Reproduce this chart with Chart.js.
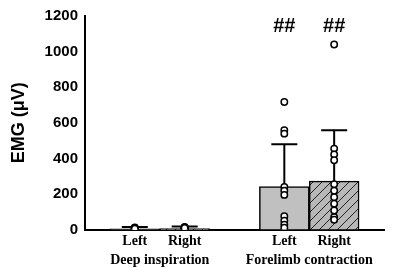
<!DOCTYPE html>
<html>
<head>
<meta charset="utf-8">
<script src="https://cdn.jsdelivr.net/npm/chart.js@4.4.1/dist/chart.umd.min.js"></script>
<style>
  html, body { margin: 0; padding: 0; background: #fff; }
  #wrap { width: 400px; height: 268px; }
</style>
</head>
<body>
<div id="wrap"><canvas id="emgChart"></canvas></div>
<script>
// slots on the x axis (empty slots keep the gaps between groups)
const slotKeys    = ['g0', 'dL', 'dR', 'g1', 'fL', 'fR', 'g2'];
const slotLabels  = ['', 'Left', 'Right', '', 'Left', 'Right', ''];
const groupLabels = ['', '', '', 'Deep inspiration', '', '', '', '', '', 'Forelimb contraction', '', '', ''];

const meanValues = [null, 5, 6, null, 242, 272, null];
const sdValues   = [null, 10, 12, null, 237, 286, null];
const markLabels = [null, null, null, null, '##', '##', null];

const deepLeftPts      = [2, 5, 8, 3, 12, 6, 4, 9, 7, 5];
const deepRightPts     = [4, 8, 12, 6, 3, 10, 15, 5, 7, 9];
const forelimbLeftPts  = [717, 558, 539, 240, 218, 195, 75, 50, 28, 10];
const forelimbRightPts = [1040, 455, 422, 390, 255, 218, 182, 145, 107, 70, 55];

const yTicks = [0, 200, 400, 600, 800, 1000, 1200];

function hatch() {
    const c = document.createElement('canvas');
    c.width = 9; c.height = 9;
    const g = c.getContext('2d');
    g.fillStyle = '#b8b8b8';
    g.fillRect(0, 0, 9, 9);
    g.strokeStyle = '#222';
    g.lineWidth = 1;
    g.beginPath();
    g.moveTo(0, 9); g.lineTo(9, 0);
    g.moveTo(-1, 1); g.lineTo(1, -1);
    g.moveTo(8, 10); g.lineTo(10, 8);
    g.stroke();
    return g.createPattern(c, 'repeat');
}

const points = [];
[['dL', deepLeftPts], ['dR', deepRightPts], ['fL', forelimbLeftPts], ['fR', forelimbRightPts]].forEach(([k, arr]) => {
    arr.forEach(v => points.push({ x: k, y: v }));
});

const errorBars = {
    id: 'errorBars',
    afterDatasetDraw(chart, args) {
        if (args.index !== 1) return;
        const ctx = chart.ctx, x = chart.scales.x, y = chart.scales.y;
        ctx.save();
        ctx.strokeStyle = '#000';
        ctx.lineWidth = 2;
        meanValues.forEach((m, i) => {
            if (m === null) return;
            const px = x.getPixelForValue(i);
            const top = y.getPixelForValue(m + sdValues[i]);
            ctx.beginPath();
            ctx.moveTo(px, y.getPixelForValue(m));
            ctx.lineTo(px, top);
            ctx.moveTo(px - 13, top);
            ctx.lineTo(px + 13, top);
            ctx.stroke();
        });
        ctx.restore();
    },
    afterDatasetsDraw(chart) {
        const ctx = chart.ctx, x = chart.scales.x, y = chart.scales.y;
        ctx.save();
        ctx.fillStyle = '#000';
        ctx.font = 'bold 20px "Liberation Sans", Arial, sans-serif';
        ctx.textAlign = 'center';
        ctx.textBaseline = 'middle';
        markLabels.forEach((t, i) => {
            if (t) ctx.fillText(t, x.getPixelForValue(i), y.getPixelForValue(1140));
        });
        ctx.restore();
    }
};

const serifBold = { family: '"Liberation Serif", "Times New Roman", serif', weight: 'bold', size: 14, lineHeight: 1.05 };

new Chart(document.getElementById('emgChart').getContext('2d'), {
    data: {
        labels: slotKeys,
        datasets: [
            {
                type: 'scatter', data: points, order: 0,
                pointRadius: 3.2, pointBackgroundColor: '#fff', pointBorderColor: '#000', pointBorderWidth: 1.5
            },
            {
                type: 'bar', data: meanValues, order: 1,
                backgroundColor: ['#c0c0c0', '#c0c0c0', hatch(), '#c0c0c0', '#c0c0c0', hatch(), '#c0c0c0'],
                borderColor: '#000', borderWidth: 1.5,
                barPercentage: 1, categoryPercentage: 1
            }
        ]
    },
    options: {
        responsive: true, maintainAspectRatio: false, animation: false,
        layout: { padding: { top: 10, right: 16, left: 8, bottom: 0 } },
        plugins: { legend: { display: false }, tooltip: { enabled: false } },
        scales: {
            x: {
                type: 'category', offset: false,
                grid: { display: false, drawTicks: false, tickLength: 0 },
                border: { color: '#000', width: 2 },
                ticks: { autoSkip: false, maxRotation: 0, padding: 4.5, color: '#000', font: serifBold,
                         callback: (v, i) => slotLabels[i] }
            },
            x2: {
                type: 'category', labels: groupLabels, position: 'bottom', offset: false,
                grid: { display: false, drawTicks: false, tickLength: 0 }, border: { display: false },
                ticks: { autoSkip: false, maxRotation: 0, padding: 0, color: '#000', font: serifBold }
            },
            y: {
                min: 0, max: 1200,
                afterBuildTicks: s => { s.ticks = yTicks.map(v => ({ value: v })); },
                grid: { display: false, drawTicks: false, tickLength: 0 },
                border: { color: '#000', width: 2 },
                ticks: { padding: 7, color: '#000', callback: v => String(v),
                         font: { family: '"Liberation Sans", Arial, sans-serif', weight: 'bold', size: 15 } },
                title: { display: true, text: 'EMG (μV)', color: '#000', padding: { top: 0, bottom: 8 },
                         font: { family: '"Liberation Sans", Arial, sans-serif', weight: 'bold', size: 18 } }
            }
        }
    },
    plugins: [errorBars]
});
</script>
</body>
</html>
